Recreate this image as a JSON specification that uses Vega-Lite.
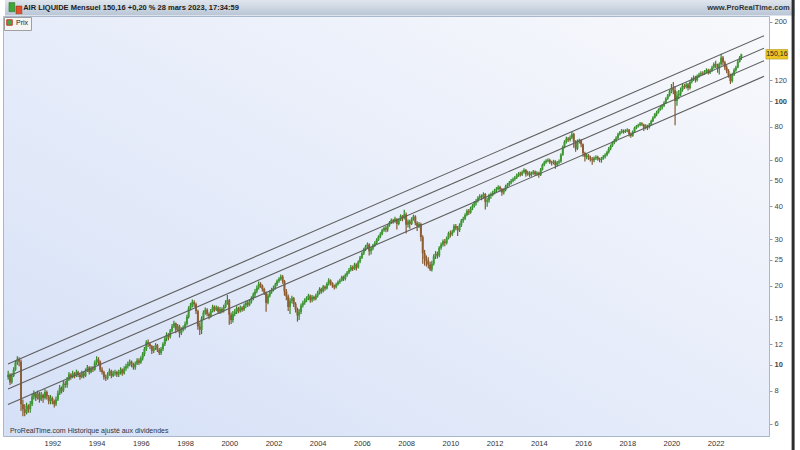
{
  "$schema": "https://vega.github.io/schema/vega-lite/v6.json",
  "width": 766,
  "height": 420,
  "autosize": {"type": "none"},
  "padding": {"left": 3, "top": 16, "right": 31, "bottom": 14},
  "background": "#ffffff",
  "config": {
    "font": "Liberation Sans",
    "view": {"stroke": "#a9b7cc", "strokeWidth": 1, "fill": {"gradient": "linear", "x1": 1, "y1": 0, "x2": 0, "y2": 1, "stops": [{"offset": 0, "color": "#f8f9fc"}, {"offset": 1, "color": "#d5e0f7"}]}},
    "legend": {"orient": "top-left", "offset": 1, "padding": 2, "fillColor": "#f5f5f5", "strokeColor": "#a0a0a0", "labelFontSize": 7, "labelColor": "#222222", "symbolType": "square", "symbolSize": 30, "symbolStrokeColor": "#cc3a2a", "symbolStrokeWidth": 1, "labelOffset": 3, "cornerRadius": 0}
  },
  "data": {"values": [
{"d":"1990-01","o":9.0,"h":9.5,"l":8.8,"c":9.2},
{"d":"1990-02","o":9.2,"h":9.3,"l":8.4,"c":8.6},
{"d":"1990-03","o":8.6,"h":9.3,"l":8.5,"c":9.1},
{"d":"1990-04","o":9.1,"h":9.8,"l":9.0,"c":9.6},
{"d":"1990-05","o":9.6,"h":10.4,"l":9.5,"c":10.2},
{"d":"1990-06","o":10.2,"h":10.8,"l":10.0,"c":10.5},
{"d":"1990-07","o":10.5,"h":10.7,"l":9.9,"c":10.3},
{"d":"1990-08","o":10.3,"h":10.5,"l":6.7,"c":7.1},
{"d":"1990-09","o":7.1,"h":7.4,"l":6.4,"c":6.8},
{"d":"1990-10","o":6.8,"h":7.1,"l":6.4,"c":6.6},
{"d":"1990-11","o":6.6,"h":7.2,"l":6.5,"c":7.0},
{"d":"1990-12","o":7.0,"h":7.1,"l":6.6,"c":6.8},
{"d":"1991-01","o":6.8,"h":7.3,"l":6.6,"c":7.1},
{"d":"1991-02","o":7.1,"h":7.8,"l":7.0,"c":7.6},
{"d":"1991-03","o":7.6,"h":8.0,"l":7.4,"c":7.8},
{"d":"1991-04","o":7.8,"h":7.9,"l":7.3,"c":7.5},
{"d":"1991-05","o":7.5,"h":8.0,"l":7.4,"c":7.8},
{"d":"1991-06","o":7.8,"h":7.9,"l":7.2,"c":7.4},
{"d":"1991-07","o":7.4,"h":7.9,"l":7.3,"c":7.7},
{"d":"1991-08","o":7.7,"h":7.8,"l":7.2,"c":7.5},
{"d":"1991-09","o":7.5,"h":8.1,"l":7.4,"c":7.9},
{"d":"1991-10","o":7.9,"h":8.0,"l":7.4,"c":7.6},
{"d":"1991-11","o":7.6,"h":7.7,"l":7.1,"c":7.3},
{"d":"1991-12","o":7.3,"h":7.7,"l":7.1,"c":7.5},
{"d":"1992-01","o":7.5,"h":7.6,"l":7.1,"c":7.3},
{"d":"1992-02","o":7.3,"h":7.4,"l":6.9,"c":7.1},
{"d":"1992-03","o":7.1,"h":7.6,"l":7.0,"c":7.4},
{"d":"1992-04","o":7.4,"h":8.0,"l":7.3,"c":7.8},
{"d":"1992-05","o":7.8,"h":8.4,"l":7.7,"c":8.2},
{"d":"1992-06","o":8.2,"h":8.3,"l":7.8,"c":8.0},
{"d":"1992-07","o":8.0,"h":8.7,"l":7.9,"c":8.5},
{"d":"1992-08","o":8.5,"h":8.7,"l":8.2,"c":8.4},
{"d":"1992-09","o":8.4,"h":9.0,"l":8.2,"c":8.8},
{"d":"1992-10","o":8.8,"h":9.4,"l":8.7,"c":9.2},
{"d":"1992-11","o":9.2,"h":9.3,"l":8.8,"c":9.0},
{"d":"1992-12","o":9.0,"h":9.5,"l":8.9,"c":9.3},
{"d":"1993-01","o":9.3,"h":9.4,"l":8.9,"c":9.1},
{"d":"1993-02","o":9.1,"h":9.6,"l":9.0,"c":9.4},
{"d":"1993-03","o":9.4,"h":9.5,"l":9.0,"c":9.2},
{"d":"1993-04","o":9.2,"h":9.3,"l":8.8,"c":9.0},
{"d":"1993-05","o":9.0,"h":9.5,"l":8.9,"c":9.3},
{"d":"1993-06","o":9.3,"h":9.4,"l":8.9,"c":9.1},
{"d":"1993-07","o":9.1,"h":9.7,"l":9.0,"c":9.5},
{"d":"1993-08","o":9.5,"h":10.0,"l":9.4,"c":9.8},
{"d":"1993-09","o":9.8,"h":9.9,"l":9.2,"c":9.4},
{"d":"1993-10","o":9.4,"h":9.9,"l":9.3,"c":9.7},
{"d":"1993-11","o":9.7,"h":9.9,"l":9.4,"c":9.6},
{"d":"1993-12","o":9.6,"h":10.4,"l":9.5,"c":10.2},
{"d":"1994-01","o":10.2,"h":10.8,"l":10.0,"c":10.5},
{"d":"1994-02","o":10.5,"h":10.7,"l":10.0,"c":10.3},
{"d":"1994-03","o":10.3,"h":10.4,"l":9.4,"c":9.6},
{"d":"1994-04","o":9.6,"h":9.8,"l":9.2,"c":9.4},
{"d":"1994-05","o":9.4,"h":9.5,"l":8.8,"c":9.0},
{"d":"1994-06","o":9.0,"h":9.2,"l":8.7,"c":8.9},
{"d":"1994-07","o":8.9,"h":9.4,"l":8.8,"c":9.2},
{"d":"1994-08","o":9.2,"h":9.7,"l":9.1,"c":9.5},
{"d":"1994-09","o":9.5,"h":9.6,"l":8.9,"c":9.1},
{"d":"1994-10","o":9.1,"h":9.5,"l":9.0,"c":9.3},
{"d":"1994-11","o":9.3,"h":9.6,"l":9.1,"c":9.4},
{"d":"1994-12","o":9.4,"h":9.5,"l":9.0,"c":9.2},
{"d":"1995-01","o":9.2,"h":9.6,"l":9.0,"c":9.4},
{"d":"1995-02","o":9.4,"h":9.8,"l":9.2,"c":9.6},
{"d":"1995-03","o":9.6,"h":9.7,"l":9.1,"c":9.3},
{"d":"1995-04","o":9.3,"h":9.9,"l":9.2,"c":9.7},
{"d":"1995-05","o":9.7,"h":10.1,"l":9.5,"c":9.9},
{"d":"1995-06","o":9.9,"h":10.3,"l":9.7,"c":10.1},
{"d":"1995-07","o":10.1,"h":10.5,"l":9.9,"c":10.3},
{"d":"1995-08","o":10.3,"h":10.4,"l":9.8,"c":10.0},
{"d":"1995-09","o":10.0,"h":10.2,"l":9.6,"c":9.8},
{"d":"1995-10","o":9.8,"h":10.3,"l":9.6,"c":10.1},
{"d":"1995-11","o":10.1,"h":10.6,"l":10.0,"c":10.4},
{"d":"1995-12","o":10.4,"h":10.6,"l":10.0,"c":10.2},
{"d":"1996-01","o":10.2,"h":10.8,"l":10.1,"c":10.6},
{"d":"1996-02","o":10.6,"h":11.2,"l":10.4,"c":11.0},
{"d":"1996-03","o":11.0,"h":11.7,"l":10.8,"c":11.5},
{"d":"1996-04","o":11.5,"h":12.4,"l":11.3,"c":12.2},
{"d":"1996-05","o":12.2,"h":12.5,"l":11.7,"c":12.0},
{"d":"1996-06","o":12.0,"h":12.2,"l":11.5,"c":11.8},
{"d":"1996-07","o":11.8,"h":11.9,"l":11.0,"c":11.3},
{"d":"1996-08","o":11.3,"h":11.8,"l":11.1,"c":11.6},
{"d":"1996-09","o":11.6,"h":12.1,"l":11.4,"c":11.9},
{"d":"1996-10","o":11.9,"h":12.0,"l":11.2,"c":11.4},
{"d":"1996-11","o":11.4,"h":11.6,"l":10.9,"c":11.1},
{"d":"1996-12","o":11.1,"h":11.7,"l":10.9,"c":11.5},
{"d":"1997-01","o":11.5,"h":12.2,"l":11.3,"c":12.0},
{"d":"1997-02","o":12.0,"h":12.8,"l":11.8,"c":12.6},
{"d":"1997-03","o":12.6,"h":13.3,"l":12.3,"c":13.0},
{"d":"1997-04","o":13.0,"h":13.2,"l":12.4,"c":12.8},
{"d":"1997-05","o":12.8,"h":13.7,"l":12.6,"c":13.5},
{"d":"1997-06","o":13.5,"h":14.3,"l":13.3,"c":14.0},
{"d":"1997-07","o":14.0,"h":14.7,"l":13.8,"c":14.4},
{"d":"1997-08","o":14.4,"h":14.5,"l":13.2,"c":13.6},
{"d":"1997-09","o":13.6,"h":14.3,"l":13.4,"c":14.0},
{"d":"1997-10","o":14.0,"h":14.2,"l":12.7,"c":13.2},
{"d":"1997-11","o":13.2,"h":13.9,"l":13.0,"c":13.6},
{"d":"1997-12","o":13.6,"h":14.1,"l":13.4,"c":13.9},
{"d":"1998-01","o":13.9,"h":14.6,"l":13.6,"c":14.3},
{"d":"1998-02","o":14.3,"h":15.5,"l":14.1,"c":15.2},
{"d":"1998-03","o":15.2,"h":16.7,"l":15.0,"c":16.4},
{"d":"1998-04","o":16.4,"h":17.2,"l":16.1,"c":16.8},
{"d":"1998-05","o":16.8,"h":17.7,"l":16.5,"c":17.3},
{"d":"1998-06","o":17.3,"h":17.6,"l":16.6,"c":17.0},
{"d":"1998-07","o":17.0,"h":17.2,"l":15.6,"c":16.0},
{"d":"1998-08","o":16.0,"h":16.2,"l":13.6,"c":14.0},
{"d":"1998-09","o":14.0,"h":14.5,"l":13.0,"c":13.6},
{"d":"1998-10","o":13.6,"h":15.3,"l":13.1,"c":15.0},
{"d":"1998-11","o":15.0,"h":16.1,"l":14.8,"c":15.8},
{"d":"1998-12","o":15.8,"h":16.5,"l":15.5,"c":16.2},
{"d":"1999-01","o":16.2,"h":16.4,"l":15.3,"c":15.6},
{"d":"1999-02","o":15.6,"h":15.8,"l":14.9,"c":15.3},
{"d":"1999-03","o":15.3,"h":16.3,"l":15.1,"c":16.0},
{"d":"1999-04","o":16.0,"h":16.9,"l":15.8,"c":16.6},
{"d":"1999-05","o":16.6,"h":16.8,"l":15.9,"c":16.2},
{"d":"1999-06","o":16.2,"h":16.8,"l":16.0,"c":16.5},
{"d":"1999-07","o":16.5,"h":16.7,"l":15.6,"c":15.9},
{"d":"1999-08","o":15.9,"h":16.6,"l":15.6,"c":16.3},
{"d":"1999-09","o":16.3,"h":16.5,"l":15.7,"c":16.0},
{"d":"1999-10","o":16.0,"h":16.9,"l":15.8,"c":16.6},
{"d":"1999-11","o":16.6,"h":17.6,"l":16.4,"c":17.2},
{"d":"1999-12","o":17.2,"h":18.4,"l":16.9,"c":17.6},
{"d":"2000-01","o":17.6,"h":17.8,"l":14.2,"c":15.5},
{"d":"2000-02","o":15.5,"h":15.8,"l":14.3,"c":14.8},
{"d":"2000-03","o":14.8,"h":16.0,"l":14.5,"c":15.6},
{"d":"2000-04","o":15.6,"h":16.3,"l":15.3,"c":15.9},
{"d":"2000-05","o":15.9,"h":16.7,"l":15.6,"c":16.4},
{"d":"2000-06","o":16.4,"h":16.6,"l":15.7,"c":16.0},
{"d":"2000-07","o":16.0,"h":16.8,"l":15.8,"c":16.5},
{"d":"2000-08","o":16.5,"h":16.7,"l":15.9,"c":16.2},
{"d":"2000-09","o":16.2,"h":17.1,"l":16.0,"c":16.8},
{"d":"2000-10","o":16.8,"h":17.5,"l":16.4,"c":17.2},
{"d":"2000-11","o":17.2,"h":17.5,"l":16.6,"c":16.9},
{"d":"2000-12","o":16.9,"h":17.7,"l":16.7,"c":17.4},
{"d":"2001-01","o":17.4,"h":18.2,"l":17.1,"c":17.9},
{"d":"2001-02","o":17.9,"h":18.8,"l":17.6,"c":18.5},
{"d":"2001-03","o":18.5,"h":19.4,"l":18.1,"c":19.0},
{"d":"2001-04","o":19.0,"h":20.0,"l":18.7,"c":19.6},
{"d":"2001-05","o":19.6,"h":20.7,"l":19.3,"c":20.3},
{"d":"2001-06","o":20.3,"h":20.6,"l":19.6,"c":20.0},
{"d":"2001-07","o":20.0,"h":20.2,"l":19.0,"c":19.4},
{"d":"2001-08","o":19.4,"h":19.6,"l":18.4,"c":18.8},
{"d":"2001-09","o":18.8,"h":19.0,"l":15.9,"c":17.2},
{"d":"2001-10","o":17.2,"h":18.6,"l":17.0,"c":18.3},
{"d":"2001-11","o":18.3,"h":19.2,"l":18.0,"c":18.9},
{"d":"2001-12","o":18.9,"h":19.6,"l":18.6,"c":19.3},
{"d":"2002-01","o":19.3,"h":20.0,"l":19.0,"c":19.6},
{"d":"2002-02","o":19.6,"h":20.5,"l":19.3,"c":20.2},
{"d":"2002-03","o":20.2,"h":21.1,"l":19.9,"c":20.8},
{"d":"2002-04","o":20.8,"h":21.5,"l":20.5,"c":21.2},
{"d":"2002-05","o":21.2,"h":22.0,"l":20.9,"c":21.6},
{"d":"2002-06","o":21.6,"h":21.9,"l":20.3,"c":20.8},
{"d":"2002-07","o":20.8,"h":21.0,"l":18.3,"c":19.0},
{"d":"2002-08","o":19.0,"h":19.4,"l":17.6,"c":18.2},
{"d":"2002-09","o":18.2,"h":18.5,"l":16.0,"c":16.6},
{"d":"2002-10","o":16.6,"h":17.9,"l":15.6,"c":17.5},
{"d":"2002-11","o":17.5,"h":18.3,"l":17.1,"c":17.9},
{"d":"2002-12","o":17.9,"h":18.1,"l":16.6,"c":17.0},
{"d":"2003-01","o":17.0,"h":17.3,"l":15.8,"c":16.2},
{"d":"2003-02","o":16.2,"h":16.5,"l":14.6,"c":15.4},
{"d":"2003-03","o":15.4,"h":16.3,"l":14.8,"c":15.9},
{"d":"2003-04","o":15.9,"h":17.1,"l":15.6,"c":16.8},
{"d":"2003-05","o":16.8,"h":17.5,"l":16.5,"c":17.2},
{"d":"2003-06","o":17.2,"h":17.9,"l":16.9,"c":17.6},
{"d":"2003-07","o":17.6,"h":18.2,"l":17.3,"c":17.9},
{"d":"2003-08","o":17.9,"h":18.6,"l":17.6,"c":18.3},
{"d":"2003-09","o":18.3,"h":18.5,"l":17.2,"c":17.6},
{"d":"2003-10","o":17.6,"h":18.4,"l":17.3,"c":18.1},
{"d":"2003-11","o":18.1,"h":18.3,"l":17.5,"c":17.8},
{"d":"2003-12","o":17.8,"h":18.6,"l":17.6,"c":18.3},
{"d":"2004-01","o":18.3,"h":19.1,"l":18.0,"c":18.8},
{"d":"2004-02","o":18.8,"h":19.7,"l":18.5,"c":19.4},
{"d":"2004-03","o":19.4,"h":19.6,"l":18.6,"c":19.0},
{"d":"2004-04","o":19.0,"h":20.1,"l":18.8,"c":19.8},
{"d":"2004-05","o":19.8,"h":20.0,"l":19.1,"c":19.5},
{"d":"2004-06","o":19.5,"h":20.6,"l":19.3,"c":20.3},
{"d":"2004-07","o":20.3,"h":21.3,"l":20.0,"c":20.9},
{"d":"2004-08","o":20.9,"h":21.1,"l":20.0,"c":20.4},
{"d":"2004-09","o":20.4,"h":20.6,"l":19.6,"c":20.0},
{"d":"2004-10","o":20.0,"h":20.2,"l":19.3,"c":19.7},
{"d":"2004-11","o":19.7,"h":20.5,"l":19.5,"c":20.2},
{"d":"2004-12","o":20.2,"h":20.9,"l":20.0,"c":20.6},
{"d":"2005-01","o":20.6,"h":21.2,"l":20.3,"c":20.9},
{"d":"2005-02","o":20.9,"h":21.8,"l":20.7,"c":21.5},
{"d":"2005-03","o":21.5,"h":21.8,"l":20.8,"c":21.2},
{"d":"2005-04","o":21.2,"h":22.2,"l":20.9,"c":21.9},
{"d":"2005-05","o":21.9,"h":22.7,"l":21.6,"c":22.4},
{"d":"2005-06","o":22.4,"h":23.3,"l":22.1,"c":22.9},
{"d":"2005-07","o":22.9,"h":23.9,"l":22.6,"c":23.5},
{"d":"2005-08","o":23.5,"h":23.8,"l":22.7,"c":23.1},
{"d":"2005-09","o":23.1,"h":24.4,"l":22.9,"c":24.0},
{"d":"2005-10","o":24.0,"h":24.3,"l":22.8,"c":23.4},
{"d":"2005-11","o":23.4,"h":24.9,"l":23.2,"c":24.6},
{"d":"2005-12","o":24.6,"h":25.9,"l":24.3,"c":25.5},
{"d":"2006-01","o":25.5,"h":26.9,"l":25.2,"c":26.5},
{"d":"2006-02","o":26.5,"h":27.8,"l":26.1,"c":27.4},
{"d":"2006-03","o":27.4,"h":28.5,"l":27.0,"c":28.0},
{"d":"2006-04","o":28.0,"h":29.1,"l":27.6,"c":28.6},
{"d":"2006-05","o":28.6,"h":28.9,"l":26.0,"c":27.0},
{"d":"2006-06","o":27.0,"h":28.0,"l":26.2,"c":27.6},
{"d":"2006-07","o":27.6,"h":28.7,"l":27.2,"c":28.3},
{"d":"2006-08","o":28.3,"h":29.4,"l":28.0,"c":29.0},
{"d":"2006-09","o":29.0,"h":30.2,"l":28.7,"c":29.8},
{"d":"2006-10","o":29.8,"h":31.0,"l":29.5,"c":30.6},
{"d":"2006-11","o":30.6,"h":31.8,"l":30.2,"c":31.3},
{"d":"2006-12","o":31.3,"h":32.8,"l":31.0,"c":32.4},
{"d":"2007-01","o":32.4,"h":33.5,"l":32.0,"c":33.0},
{"d":"2007-02","o":33.0,"h":33.6,"l":31.8,"c":32.6},
{"d":"2007-03","o":32.6,"h":34.2,"l":32.0,"c":33.8},
{"d":"2007-04","o":33.8,"h":35.1,"l":33.4,"c":34.6},
{"d":"2007-05","o":34.6,"h":35.9,"l":34.2,"c":35.4},
{"d":"2007-06","o":35.4,"h":35.8,"l":34.3,"c":35.0},
{"d":"2007-07","o":35.0,"h":36.4,"l":34.6,"c":35.8},
{"d":"2007-08","o":35.8,"h":36.0,"l":32.6,"c":34.2},
{"d":"2007-09","o":34.2,"h":36.0,"l":33.8,"c":35.5},
{"d":"2007-10","o":35.5,"h":37.2,"l":35.1,"c":36.6},
{"d":"2007-11","o":36.6,"h":37.0,"l":35.0,"c":36.0},
{"d":"2007-12","o":36.0,"h":38.7,"l":35.6,"c":37.2},
{"d":"2008-01","o":37.2,"h":37.8,"l":31.5,"c":34.0},
{"d":"2008-02","o":34.0,"h":35.6,"l":33.2,"c":35.0},
{"d":"2008-03","o":35.0,"h":35.5,"l":32.8,"c":34.2},
{"d":"2008-04","o":34.2,"h":36.3,"l":33.9,"c":35.8},
{"d":"2008-05","o":35.8,"h":37.1,"l":35.2,"c":36.5},
{"d":"2008-06","o":36.5,"h":36.9,"l":33.8,"c":34.5},
{"d":"2008-07","o":34.5,"h":35.0,"l":32.2,"c":33.6},
{"d":"2008-08","o":33.6,"h":34.8,"l":33.0,"c":34.2},
{"d":"2008-09","o":34.2,"h":34.6,"l":29.4,"c":30.5},
{"d":"2008-10","o":30.5,"h":31.0,"l":24.2,"c":26.5},
{"d":"2008-11","o":26.5,"h":27.3,"l":23.8,"c":25.2},
{"d":"2008-12","o":25.2,"h":26.0,"l":23.6,"c":24.8},
{"d":"2009-01","o":24.8,"h":25.6,"l":23.2,"c":24.0},
{"d":"2009-02","o":24.0,"h":24.6,"l":22.7,"c":23.0},
{"d":"2009-03","o":23.0,"h":24.8,"l":22.6,"c":24.2},
{"d":"2009-04","o":24.2,"h":26.3,"l":23.8,"c":25.8},
{"d":"2009-05","o":25.8,"h":27.0,"l":25.2,"c":26.4},
{"d":"2009-06","o":26.4,"h":26.9,"l":25.3,"c":26.0},
{"d":"2009-07","o":26.0,"h":28.2,"l":25.6,"c":27.8},
{"d":"2009-08","o":27.8,"h":29.1,"l":27.3,"c":28.6},
{"d":"2009-09","o":28.6,"h":29.9,"l":28.1,"c":29.4},
{"d":"2009-10","o":29.4,"h":30.0,"l":28.2,"c":29.0},
{"d":"2009-11","o":29.0,"h":30.7,"l":28.6,"c":30.2},
{"d":"2009-12","o":30.2,"h":32.0,"l":29.9,"c":31.5},
{"d":"2010-01","o":31.5,"h":32.3,"l":30.4,"c":31.2},
{"d":"2010-02","o":31.2,"h":32.5,"l":30.8,"c":32.0},
{"d":"2010-03","o":32.0,"h":34.1,"l":31.7,"c":33.6},
{"d":"2010-04","o":33.6,"h":34.2,"l":32.4,"c":33.0},
{"d":"2010-05","o":33.0,"h":33.6,"l":30.8,"c":32.4},
{"d":"2010-06","o":32.4,"h":34.4,"l":31.9,"c":33.8},
{"d":"2010-07","o":33.8,"h":35.7,"l":33.3,"c":35.2},
{"d":"2010-08","o":35.2,"h":36.4,"l":34.6,"c":35.8},
{"d":"2010-09","o":35.8,"h":37.6,"l":35.4,"c":37.0},
{"d":"2010-10","o":37.0,"h":38.9,"l":36.6,"c":38.3},
{"d":"2010-11","o":38.3,"h":39.0,"l":37.0,"c":37.8},
{"d":"2010-12","o":37.8,"h":39.8,"l":37.4,"c":39.2},
{"d":"2011-01","o":39.2,"h":40.7,"l":38.6,"c":40.0},
{"d":"2011-02","o":40.0,"h":41.8,"l":39.5,"c":41.2},
{"d":"2011-03","o":41.2,"h":42.5,"l":40.2,"c":41.8},
{"d":"2011-04","o":41.8,"h":43.6,"l":41.3,"c":43.0},
{"d":"2011-05","o":43.0,"h":44.3,"l":42.5,"c":43.6},
{"d":"2011-06","o":43.6,"h":44.2,"l":42.1,"c":43.2},
{"d":"2011-07","o":43.2,"h":45.1,"l":42.8,"c":44.4},
{"d":"2011-08","o":44.4,"h":44.8,"l":38.8,"c":41.5},
{"d":"2011-09","o":41.5,"h":43.0,"l":39.8,"c":42.0},
{"d":"2011-10","o":42.0,"h":44.5,"l":41.2,"c":43.8},
{"d":"2011-11","o":43.8,"h":45.0,"l":42.6,"c":44.2},
{"d":"2011-12","o":44.2,"h":45.7,"l":43.6,"c":45.0},
{"d":"2012-01","o":45.0,"h":46.5,"l":44.3,"c":45.8},
{"d":"2012-02","o":45.8,"h":47.2,"l":45.1,"c":46.5},
{"d":"2012-03","o":46.5,"h":48.0,"l":45.8,"c":47.2},
{"d":"2012-04","o":47.2,"h":47.8,"l":45.4,"c":46.3},
{"d":"2012-05","o":46.3,"h":46.8,"l":43.8,"c":45.0},
{"d":"2012-06","o":45.0,"h":46.7,"l":44.2,"c":46.0},
{"d":"2012-07","o":46.0,"h":48.2,"l":45.5,"c":47.5},
{"d":"2012-08","o":47.5,"h":48.9,"l":46.9,"c":48.2},
{"d":"2012-09","o":48.2,"h":49.8,"l":47.6,"c":49.0},
{"d":"2012-10","o":49.0,"h":50.6,"l":48.4,"c":49.8},
{"d":"2012-11","o":49.8,"h":51.3,"l":49.2,"c":50.5},
{"d":"2012-12","o":50.5,"h":52.0,"l":49.9,"c":51.2},
{"d":"2013-01","o":51.2,"h":53.1,"l":50.6,"c":52.3},
{"d":"2013-02","o":52.3,"h":53.8,"l":51.6,"c":53.0},
{"d":"2013-03","o":53.0,"h":53.9,"l":51.8,"c":52.6},
{"d":"2013-04","o":52.6,"h":54.6,"l":52.0,"c":53.8},
{"d":"2013-05","o":53.8,"h":55.6,"l":53.1,"c":54.8},
{"d":"2013-06","o":54.8,"h":55.3,"l":51.6,"c":52.8},
{"d":"2013-07","o":52.8,"h":54.4,"l":52.1,"c":53.6},
{"d":"2013-08","o":53.6,"h":54.2,"l":51.5,"c":52.4},
{"d":"2013-09","o":52.4,"h":54.0,"l":51.7,"c":53.2},
{"d":"2013-10","o":53.2,"h":54.8,"l":52.6,"c":54.0},
{"d":"2013-11","o":54.0,"h":54.5,"l":52.0,"c":52.8},
{"d":"2013-12","o":52.8,"h":54.2,"l":52.1,"c":53.5},
{"d":"2014-01","o":53.5,"h":54.0,"l":51.2,"c":52.5},
{"d":"2014-02","o":52.5,"h":55.7,"l":52.0,"c":55.0},
{"d":"2014-03","o":55.0,"h":58.0,"l":54.5,"c":57.2},
{"d":"2014-04","o":57.2,"h":59.4,"l":56.6,"c":58.6},
{"d":"2014-05","o":58.6,"h":60.2,"l":57.9,"c":59.4},
{"d":"2014-06","o":59.4,"h":60.7,"l":58.6,"c":59.8},
{"d":"2014-07","o":59.8,"h":60.4,"l":57.7,"c":58.6},
{"d":"2014-08","o":58.6,"h":59.4,"l":57.0,"c":58.2},
{"d":"2014-09","o":58.2,"h":59.9,"l":57.5,"c":59.0},
{"d":"2014-10","o":59.0,"h":59.6,"l":55.4,"c":57.2},
{"d":"2014-11","o":57.2,"h":59.2,"l":56.5,"c":58.4},
{"d":"2014-12","o":58.4,"h":60.0,"l":57.6,"c":59.0},
{"d":"2015-01","o":59.0,"h":63.4,"l":58.4,"c":62.5},
{"d":"2015-02","o":62.5,"h":67.8,"l":62.0,"c":67.0},
{"d":"2015-03","o":67.0,"h":71.0,"l":66.2,"c":70.0},
{"d":"2015-04","o":70.0,"h":73.2,"l":69.0,"c":72.0},
{"d":"2015-05","o":72.0,"h":73.0,"l":70.0,"c":71.2},
{"d":"2015-06","o":71.2,"h":74.0,"l":70.2,"c":72.6},
{"d":"2015-07","o":72.6,"h":76.5,"l":71.8,"c":75.0},
{"d":"2015-08","o":75.0,"h":75.8,"l":66.5,"c":70.0},
{"d":"2015-09","o":70.0,"h":71.0,"l":64.2,"c":66.0},
{"d":"2015-10","o":66.0,"h":71.5,"l":65.2,"c":70.5},
{"d":"2015-11","o":70.5,"h":72.0,"l":69.0,"c":71.0},
{"d":"2015-12","o":71.0,"h":71.6,"l":66.8,"c":68.5},
{"d":"2016-01","o":68.5,"h":69.0,"l":61.5,"c":63.5},
{"d":"2016-02","o":63.5,"h":64.2,"l":59.0,"c":61.5},
{"d":"2016-03","o":61.5,"h":63.4,"l":60.2,"c":62.2},
{"d":"2016-04","o":62.2,"h":63.0,"l":59.8,"c":61.0},
{"d":"2016-05","o":61.0,"h":62.0,"l":59.0,"c":60.2},
{"d":"2016-06","o":60.2,"h":61.4,"l":57.4,"c":59.6},
{"d":"2016-07","o":59.6,"h":61.6,"l":58.6,"c":60.8},
{"d":"2016-08","o":60.8,"h":62.3,"l":59.8,"c":61.4},
{"d":"2016-09","o":61.4,"h":62.0,"l":59.4,"c":60.2},
{"d":"2016-10","o":60.2,"h":61.0,"l":58.6,"c":59.8},
{"d":"2016-11","o":59.8,"h":61.4,"l":58.4,"c":60.6},
{"d":"2016-12","o":60.6,"h":62.4,"l":59.9,"c":61.5},
{"d":"2017-01","o":61.5,"h":63.4,"l":60.6,"c":62.5},
{"d":"2017-02","o":62.5,"h":64.8,"l":61.8,"c":64.0},
{"d":"2017-03","o":64.0,"h":66.9,"l":63.2,"c":66.0},
{"d":"2017-04","o":66.0,"h":68.5,"l":65.1,"c":67.6},
{"d":"2017-05","o":67.6,"h":70.4,"l":67.0,"c":69.5},
{"d":"2017-06","o":69.5,"h":71.8,"l":68.6,"c":70.8},
{"d":"2017-07","o":70.8,"h":73.5,"l":70.0,"c":72.5},
{"d":"2017-08","o":72.5,"h":75.8,"l":71.8,"c":74.8},
{"d":"2017-09","o":74.8,"h":77.0,"l":74.0,"c":76.0},
{"d":"2017-10","o":76.0,"h":78.3,"l":75.3,"c":77.2},
{"d":"2017-11","o":77.2,"h":78.0,"l":75.2,"c":76.4},
{"d":"2017-12","o":76.4,"h":78.1,"l":75.6,"c":77.0},
{"d":"2018-01","o":77.0,"h":78.8,"l":76.1,"c":77.8},
{"d":"2018-02","o":77.8,"h":78.4,"l":73.4,"c":75.0},
{"d":"2018-03","o":75.0,"h":75.9,"l":72.6,"c":73.8},
{"d":"2018-04","o":73.8,"h":77.4,"l":73.2,"c":76.5},
{"d":"2018-05","o":76.5,"h":80.0,"l":75.8,"c":79.0},
{"d":"2018-06","o":79.0,"h":81.2,"l":78.2,"c":80.2},
{"d":"2018-07","o":80.2,"h":82.0,"l":79.4,"c":81.0},
{"d":"2018-08","o":81.0,"h":83.3,"l":80.2,"c":82.2},
{"d":"2018-09","o":82.2,"h":83.0,"l":80.4,"c":81.4},
{"d":"2018-10","o":81.4,"h":82.0,"l":77.0,"c":79.2},
{"d":"2018-11","o":79.2,"h":81.6,"l":78.2,"c":80.6},
{"d":"2018-12","o":80.6,"h":81.3,"l":77.6,"c":79.5},
{"d":"2019-01","o":79.5,"h":82.5,"l":78.6,"c":81.5},
{"d":"2019-02","o":81.5,"h":85.0,"l":80.8,"c":84.0},
{"d":"2019-03","o":84.0,"h":87.6,"l":83.2,"c":86.5},
{"d":"2019-04","o":86.5,"h":90.1,"l":85.8,"c":89.0},
{"d":"2019-05","o":89.0,"h":91.8,"l":87.6,"c":90.5},
{"d":"2019-06","o":90.5,"h":93.8,"l":89.6,"c":92.6},
{"d":"2019-07","o":92.6,"h":95.8,"l":91.8,"c":94.5},
{"d":"2019-08","o":94.5,"h":97.3,"l":92.8,"c":96.0},
{"d":"2019-09","o":96.0,"h":99.8,"l":95.0,"c":98.5},
{"d":"2019-10","o":98.5,"h":103.4,"l":97.6,"c":102.0},
{"d":"2019-11","o":102.0,"h":106.4,"l":101.0,"c":105.0},
{"d":"2019-12","o":105.0,"h":110.0,"l":104.0,"c":108.5},
{"d":"2020-01","o":108.5,"h":116.0,"l":107.0,"c":112.0},
{"d":"2020-02","o":112.0,"h":118.0,"l":106.0,"c":110.0},
{"d":"2020-03","o":110.0,"h":114.0,"l":81.0,"c":100.0},
{"d":"2020-04","o":100.0,"h":109.0,"l":96.0,"c":105.0},
{"d":"2020-05","o":105.0,"h":110.0,"l":101.5,"c":106.5},
{"d":"2020-06","o":106.5,"h":112.5,"l":104.5,"c":110.0},
{"d":"2020-07","o":110.0,"h":116.5,"l":108.5,"c":114.0},
{"d":"2020-08","o":114.0,"h":116.0,"l":111.0,"c":113.0},
{"d":"2020-09","o":113.0,"h":117.5,"l":111.5,"c":115.5},
{"d":"2020-10","o":115.5,"h":117.0,"l":109.5,"c":112.0},
{"d":"2020-11","o":112.0,"h":120.0,"l":110.5,"c":118.0},
{"d":"2020-12","o":118.0,"h":123.0,"l":116.5,"c":121.0},
{"d":"2021-01","o":121.0,"h":125.0,"l":119.0,"c":122.5},
{"d":"2021-02","o":122.5,"h":124.5,"l":117.5,"c":120.0},
{"d":"2021-03","o":120.0,"h":126.0,"l":118.5,"c":124.5},
{"d":"2021-04","o":124.5,"h":128.0,"l":122.5,"c":126.0},
{"d":"2021-05","o":126.0,"h":129.5,"l":124.0,"c":127.5},
{"d":"2021-06","o":127.5,"h":129.5,"l":124.8,"c":126.8},
{"d":"2021-07","o":126.8,"h":131.0,"l":125.5,"c":129.0},
{"d":"2021-08","o":129.0,"h":133.0,"l":127.5,"c":131.0},
{"d":"2021-09","o":131.0,"h":132.5,"l":126.0,"c":128.0},
{"d":"2021-10","o":128.0,"h":132.5,"l":126.5,"c":130.5},
{"d":"2021-11","o":130.5,"h":136.0,"l":129.0,"c":134.0},
{"d":"2021-12","o":134.0,"h":140.0,"l":132.5,"c":138.0},
{"d":"2022-01","o":138.0,"h":142.0,"l":133.5,"c":136.0},
{"d":"2022-02","o":136.0,"h":138.5,"l":128.0,"c":133.0},
{"d":"2022-03","o":133.0,"h":140.0,"l":126.0,"c":138.0},
{"d":"2022-04","o":138.0,"h":151.0,"l":136.0,"c":146.0},
{"d":"2022-05","o":146.0,"h":148.0,"l":136.5,"c":140.0},
{"d":"2022-06","o":140.0,"h":142.0,"l":131.0,"c":134.0},
{"d":"2022-07","o":134.0,"h":136.5,"l":127.5,"c":130.0},
{"d":"2022-08","o":130.0,"h":132.0,"l":122.5,"c":125.0},
{"d":"2022-09","o":125.0,"h":127.0,"l":116.0,"c":119.0},
{"d":"2022-10","o":119.0,"h":128.0,"l":117.5,"c":126.0},
{"d":"2022-11","o":126.0,"h":133.0,"l":124.5,"c":131.0},
{"d":"2022-12","o":131.0,"h":136.0,"l":129.0,"c":134.0},
{"d":"2023-01","o":134.0,"h":143.0,"l":133.0,"c":141.0},
{"d":"2023-02","o":141.0,"h":148.0,"l":140.0,"c":146.0},
{"d":"2023-03","o":146.0,"h":151.0,"l":143.0,"c":150.16}
  ]},
  "encoding": {
    "x": {"type": "temporal", "title": null,
      "scale": {"type": "utc", "domain": [{"year": 1989, "month": 12, "date": 29, "utc": true}, {"year": 2024, "month": 3, "date": 9, "utc": true}]},
      "axis": {"values": [{"year": 1992, "utc": true}, {"year": 1994, "utc": true}, {"year": 1996, "utc": true}, {"year": 1998, "utc": true}, {"year": 2000, "utc": true}, {"year": 2002, "utc": true}, {"year": 2004, "utc": true}, {"year": 2006, "utc": true}, {"year": 2008, "utc": true}, {"year": 2010, "utc": true}, {"year": 2012, "utc": true}, {"year": 2014, "utc": true}, {"year": 2016, "utc": true}, {"year": 2018, "utc": true}, {"year": 2020, "utc": true}, {"year": 2022, "utc": true}],
        "format": "%Y", "grid": false, "ticks": false, "domain": false, "labelPadding": 3, "labelFontSize": 7.5, "labelColor": "#333333", "labelFlush": false}
    },
    "y": {"type": "quantitative", "title": null,
      "scale": {"type": "log", "domain": [5.383, 209.9], "nice": false},
      "axis": {"orient": "right", "values": [6, 8, 10, 12, 15, 20, 25, 30, 40, 50, 60, 80, 100, 120, 200], "format": "d", "grid": false, "tickSize": 3, "tickColor": "#8a9ab0", "domain": true, "domainColor": "#a9b7cc", "labelPadding": 2, "labelFontSize": 7.5, "labelColor": "#444444", "labelBaseline": "middle",
        "labelFontWeight": {"condition": {"test": "datum.value == 100 || datum.value == 10", "value": "bold"}, "value": "normal"}}
    }
  },
  "layer": [
    {
      "data": {"values": [{"k": "header"}]},
      "mark": {"type": "rect", "clip": false, "color": {"gradient": "linear", "x1": 0, "y1": 0, "x2": 0, "y2": 1, "stops": [{"offset": 0, "color": "#e4e9f0"}, {"offset": 1, "color": "#b9c6d6"}]}},
      "encoding": {
        "x": {"datum": {"year": 1989, "month": 11, "date": 9, "utc": true}},
        "x2": {"datum": {"year": 2025, "month": 7, "date": 28, "utc": true}},
        "y": {"datum": 211},
        "y2": {"datum": 245}
      }
    },
    {
      "data": {"values": [{"k": "up", "a": {"year": 1990, "month": 1, "date": 14}, "b": {"year": 1990, "month": 4, "date": 20}, "y1": 219, "y2": 236}]},
      "mark": {"type": "rect", "clip": false, "color": "#3fa63a", "stroke": "#1f6a1f", "strokeWidth": 0.5},
      "encoding": {
        "x": {"datum": {"year": 1990, "month": 1, "date": 14, "utc": true}},
        "x2": {"datum": {"year": 1990, "month": 4, "date": 20, "utc": true}},
        "y": {"datum": 218},
        "y2": {"datum": 236}
      }
    },
    {
      "data": {"values": [{"k": "down"}]},
      "mark": {"type": "rect", "clip": false, "color": "#e0502a", "stroke": "#8a2a10", "strokeWidth": 0.5},
      "encoding": {
        "x": {"datum": {"year": 1990, "month": 5, "date": 10, "utc": true}},
        "x2": {"datum": {"year": 1990, "month": 8, "date": 15, "utc": true}},
        "y": {"datum": 214},
        "y2": {"datum": 229}
      }
    },
    {
      "data": {"values": [{"t": "AIR LIQUIDE Mensuel 150,16 +0,20 % 28 mars 2023, 17:34:59"}]},
      "mark": {"type": "text", "clip": false, "fontSize": 7.5, "fontWeight": "bold", "color": "#1a1a1a", "align": "left", "baseline": "middle"},
      "encoding": {
        "x": {"datum": {"year": 1990, "month": 9, "date": 5, "utc": true}},
        "y": {"datum": 225},
        "text": {"field": "t"}
      }
    },
    {
      "mark": {"type": "rule", "strokeWidth": 1.2},
      "encoding": {
        "x": {"field": "d"},
        "y": {"field": "l"},
        "y2": {"field": "h"},
        "color": {"condition": {"test": "datum.c >= datum.o", "value": "#2f8a25"}, "value": "#86592f"}
      }
    },
    {
      "mark": {"type": "bar", "width": 2},
      "encoding": {
        "x": {"field": "d"},
        "y": {"field": "o"},
        "y2": {"field": "c"},
        "color": {"condition": {"test": "datum.c >= datum.o", "value": "#3f9a33"}, "value": "#8f5e33"}
      }
    },
    {
      "data": {"values": [
        {"line": "L1", "d": "1989-12-29", "v": 10.09}, {"line": "L1", "d": "2024-03-09", "v": 176.7},
        {"line": "L2", "d": "1989-12-29", "v": 9.04}, {"line": "L2", "d": "2024-03-09", "v": 158.4},
        {"line": "L3", "d": "1989-12-29", "v": 8.11}, {"line": "L3", "d": "2024-03-09", "v": 142.1},
        {"line": "L4", "d": "1989-12-29", "v": 7.08}, {"line": "L4", "d": "2024-03-09", "v": 124.0}
      ]},
      "mark": {"type": "line", "color": "#5f5f5f", "strokeWidth": 1.1},
      "encoding": {
        "x": {"field": "d"},
        "y": {"field": "v"},
        "detail": {"field": "line"}
      }
    },
    {
      "data": {"values": [{"s": "Prix"}]},
      "mark": {"type": "square", "clip": true, "opacity": 1},
      "encoding": {
        "x": {"datum": {"year": 1980, "utc": true}},
        "y": {"datum": 100},
        "color": {"field": "s", "type": "nominal", "scale": {"range": ["#4aa64a"]}, "legend": {"title": null}}
      }
    },
    {
      "data": {"values": [{"k": "last"}]},
      "mark": {"type": "rect", "clip": false, "color": "#ecc521", "stroke": "#b8961a", "strokeWidth": 0.6},
      "encoding": {
        "x": {"datum": {"year": 2024, "month": 4, "date": 10, "utc": true}},
        "x2": {"datum": {"year": 2025, "month": 4, "date": 5, "utc": true}},
        "y": {"datum": 144.2},
        "y2": {"datum": 156.7}
      }
    },
    {
      "data": {"values": [{"t": "150,16"}]},
      "mark": {"type": "text", "clip": false, "fontSize": 7, "color": "#222222", "align": "center", "baseline": "middle"},
      "encoding": {
        "x": {"datum": {"year": 2024, "month": 10, "date": 8, "utc": true}},
        "y": {"datum": 150.16},
        "text": {"field": "t"}
      }
    },
    {
      "data": {"values": [{"t": "ProRealTime.com  Historique ajusté aux dividendes"}]},
      "mark": {"type": "text", "clip": false, "fontSize": 7, "color": "#333333", "align": "left", "baseline": "middle"},
      "encoding": {
        "x": {"datum": {"year": 1990, "month": 1, "date": 30, "utc": true}},
        "y": {"datum": 5.6},
        "text": {"field": "t"}
      }
    },
    {
      "data": {"values": [{"t": "www.ProRealTime.com"}]},
      "mark": {"type": "text", "clip": false, "fontSize": 7.5, "fontWeight": "bold", "color": "#333333", "align": "right", "baseline": "middle"},
      "encoding": {
        "x": {"datum": {"year": 2025, "month": 5, "date": 7, "utc": true}},
        "y": {"datum": 225},
        "text": {"field": "t"}
      }
    },
    {
      "data": {"values": [{"k": "edge"}]},
      "mark": {"type": "rule", "clip": false, "color": "#2e2e2e", "strokeWidth": 3},
      "encoding": {
        "x": {"datum": {"year": 2025, "month": 7, "date": 3, "utc": true}},
        "y": {"datum": 245},
        "y2": {"datum": 4.7}
      }
    }
  ]
}
